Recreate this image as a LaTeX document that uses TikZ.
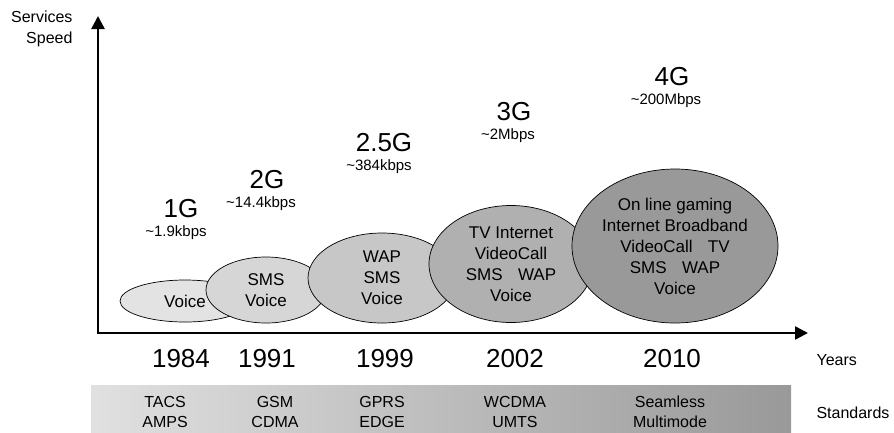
\documentclass[tikz,border=0pt]{standalone}
\usepackage{fontspec}
\setmainfont{Liberation Sans}
\usetikzlibrary{arrows.meta, shapes}
\begin{document}
\begin{tikzpicture}[x=1pt, y=-1pt]
	\tikzstyle{service} = [ draw, ellipse, line width=0.7pt, inner sep=0pt, align=center, font={\fontsize{17}{21}\selectfont} ];
	\tikzstyle{gen} = [ font={\fontsize{26}{30}\selectfont} ];
	\tikzstyle{rate} = [ font={\fontsize{15}{18}\selectfont} ];
	\tikzstyle{year} = [ font={\fontsize{26}{30}\selectfont} ];
	\tikzstyle{std} = [ align=center, font={\fontsize{16}{20}\selectfont} ];
	\tikzstyle{axislabel} = [ font={\fontsize{16}{21}\selectfont} ];
	\tikzstyle{axis} = [ {Triangle[length=13pt, width=13pt]}-{Triangle[length=13pt, width=13pt]}, line width=2.5pt ];

	\useasboundingbox (0,0) rectangle (894,432);

	% standards band
	\shade[left color=black!12, right color=black!40] (91,385) rectangle (791,432);

	% axes
	\coordinate (ytip) at (98,16);
	\coordinate (origin) at (98,333);
	\coordinate (xtip) at (808,333);
	\draw[axis] (ytip) -- (origin) -- (xtip);

	\node[axislabel, align=right, anchor=east] (speed) at (76,29) {Services\\Speed};
	\node[axislabel, anchor=west] (years) at (813,360) {Years};
	\node[axislabel, anchor=west] (standards) at (813,413) {Standards};

	% services bubbles, later ones on top
	\node[service, fill=black!11, minimum width=130pt, minimum height=42pt] (e1) at (185,301) {Voice};
	\node[service, fill=black!16, minimum width=120pt, minimum height=66pt] (e2) at (266,290) {SMS\\Voice};
	\node[service, fill=black!22, minimum width=148pt, minimum height=90pt] (e3) at (382,278) {WAP\\SMS\\Voice};
	\node[service, fill=black!31, minimum width=164pt, minimum height=117pt] (e4) at (511,264)
		{TV Internet\\VideoCall\\SMS\hspace{0.9em}WAP\\Voice};
	\node[service, fill=black!40, minimum width=206pt, minimum height=154pt] (e5) at (675,246)
		{On line gaming\\Internet Broadband\\VideoCall\hspace{0.9em}TV\\SMS\hspace{0.9em}WAP\\Voice};

	% generations and speeds
	\foreach \g/\r/\gx/\gy/\rx [count=\i] in {1G/1.9kbps/181/209/176, 2G/14.4kbps/267/180/261,
			2.5G/384kbps/384/143/379, 3G/2Mbps/514/112/508, 4G/200Mbps/672/77/666} {
		\node[gen] (gen\i) at (\gx,\gy) {\g};
		\node[rate] (rate\i) at (\rx,{\gy+24}) {\textasciitilde\r};
	}

	% years
	\foreach \y/\yx [count=\i] in {1984/181, 1991/267, 1999/385, 2002/515, 2010/672} {
		\node[year] (year\i) at (\yx,359) {\y};
	}

	% standards
	\foreach \sa/\sb/\sx [count=\i] in {TACS/AMPS/165, GSM/CDMA/275, GPRS/EDGE/382,
			WCDMA/UMTS/515, Seamless/Multimode/670} {
		\node[std] (std\i) at (\sx,412) {\sa\\\sb};
	}

\end{tikzpicture}
\end{document}
